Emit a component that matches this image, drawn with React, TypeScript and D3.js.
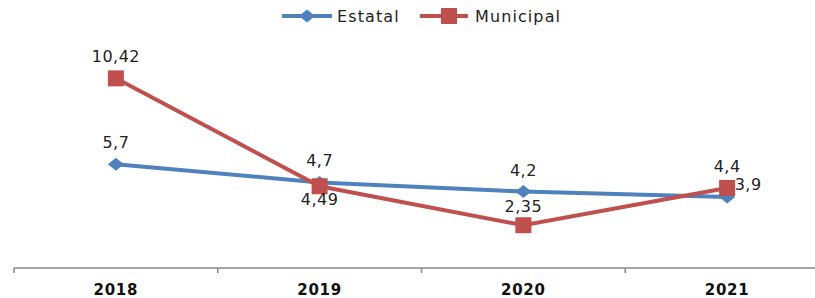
import * as d3 from "d3";

const years = ["2018", "2019", "2020", "2021"];
const estatal = [5.7, 4.7, 4.2, 3.9];
const municipal = [10.42, 4.49, 2.35, 4.4];
const estatalLabels = ["5,7", "4,7", "4,2", "3,9"];
const municipalLabels = ["10,42", "4,49", "2,35", "4,4"];

const BLUE = "#4F81BD";
const RED = "#C0504D";
const FONT = "'DejaVu Sans', Verdana, sans-serif";

const width = 815;
const height = 298;

// wide diamond marker, like the spreadsheet one
const diamond = "M-8,0L0,-6.5L8,0L0,6.5Z";

export default function App() {
  const x = d3.scaleBand<string>().domain(years).range([14, 829]);
  const y = d3.scaleLinear().domain([0, 12]).range([268, 49.6]);
  const cx = (yr: string) => (x(yr) ?? 0) + x.bandwidth() / 2;

  const line = d3
    .line<number>()
    .x((_, i) => cx(years[i]))
    .y((d) => y(d));

  // label offsets (dx, dy) relative to the point, per series
  const estOff = [
    [0, -16],
    [0, -16],
    [0, -16],
    [21, -7],
  ];
  const munOff = [
    [0, -16],
    [0, 19],
    [0, -13],
    [0, -16],
  ];

  return (
    <svg
      width={width}
      height={height}
      style={{ position: "absolute", left: 0, top: 0, background: "#fff" }}
    >
      {/* legend */}
      <g fontFamily={FONT} fontSize={16} letterSpacing={1.1} fill="#222">
        <line x1={282} x2={332} y1={16} y2={16} stroke={BLUE} strokeWidth={4} />
        <path d={diamond} transform="translate(307,16)" fill={BLUE} />
        <text x={337} y={22}>Estatal</text>
        <line x1={420} x2={468} y1={16} y2={16} stroke={RED} strokeWidth={4} />
        <rect x={441} y={8} width={16} height={16} fill={RED} />
        <text x={475} y={22}>Municipal</text>
      </g>

      {/* axis */}
      <g stroke="#888" strokeWidth={1.5}>
        <line x1={14} x2={815} y1={y(0)} y2={y(0)} />
        {years.map((yr) => (
          <line key={yr} x1={x(yr)} x2={x(yr)} y1={y(0)} y2={y(0) + 5} />
        ))}
      </g>
      <g fontFamily={FONT} fontSize={15} letterSpacing={0.8} fontWeight="bold" fill="#111" textAnchor="middle">
        {years.map((yr) => (
          <text key={yr} x={cx(yr)} y={295}>
            {yr}
          </text>
        ))}
      </g>

      {/* series */}
      <path d={line(estatal) ?? ""} fill="none" stroke={BLUE} strokeWidth={4} />
      <path d={line(municipal) ?? ""} fill="none" stroke={RED} strokeWidth={4} />
      {estatal.map((v, i) => (
        <path key={"e" + i} d={diamond} transform={`translate(${cx(years[i])},${y(v)})`} fill={BLUE} />
      ))}
      {municipal.map((v, i) => (
        <rect key={"m" + i} x={cx(years[i]) - 8} y={y(v) - 8} width={16} height={16} fill={RED} />
      ))}

      {/* data labels */}
      <g fontFamily={FONT} fontSize={16} letterSpacing={0.5} fill="#222" textAnchor="middle">
        {estatal.map((v, i) => (
          <text key={"el" + i} x={cx(years[i]) + estOff[i][0]} y={y(v) + estOff[i][1]}>
            {estatalLabels[i]}
          </text>
        ))}
        {municipal.map((v, i) => (
          <text key={"ml" + i} x={cx(years[i]) + munOff[i][0]} y={y(v) + munOff[i][1]}>
            {municipalLabels[i]}
          </text>
        ))}
      </g>
    </svg>
  );
}
